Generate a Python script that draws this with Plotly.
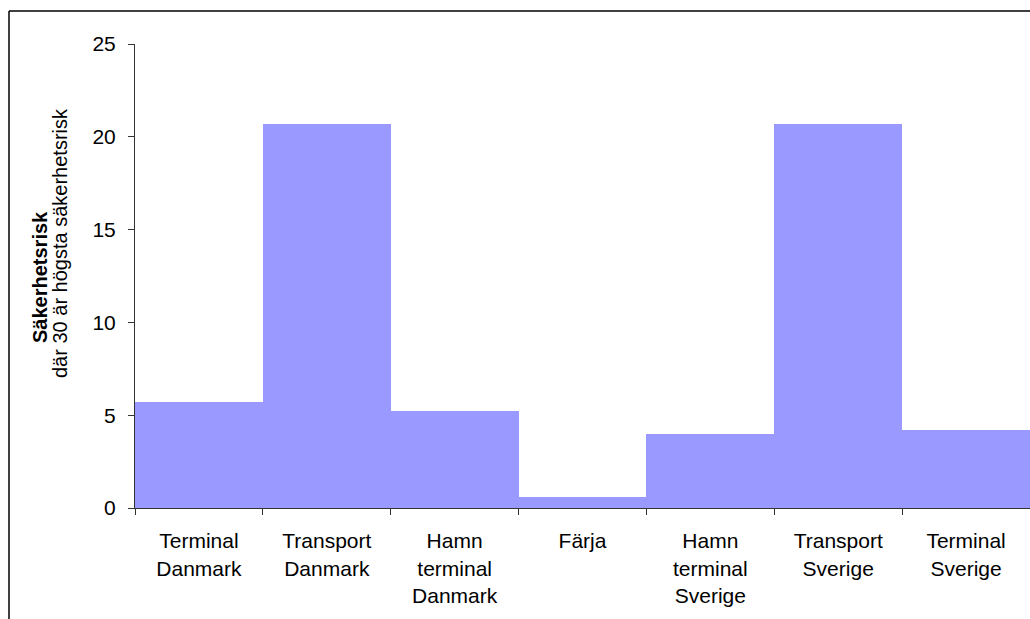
import plotly.graph_objects as go

# Safety risk per stage of the transport chain
categories = [
    "Terminal<br>Danmark",
    "Transport<br>Danmark",
    "Hamn<br>terminal<br>Danmark",
    "Färja",
    "Hamn<br>terminal<br>Sverige",
    "Transport<br>Sverige",
    "Terminal<br>Sverige",
]
risk_values = [5.7, 20.7, 5.2, 0.6, 4.0, 20.7, 4.2]
y_ticks = [0, 5, 10, 15, 20, 25]

W, H = 1030, 619
L, R, T, B = 135, 0, 44, 111
plot_w = W - L - R
plot_h = H - T - B

font_family = "Liberation Sans, Arial, sans-serif"
axis_color = "#333333"

fig = go.Figure(
    go.Bar(
        x=categories,
        y=risk_values,
        marker=dict(color="#9999FF", line=dict(width=0)),
        hoverinfo="skip",
    )
)


def px_x(px):
    return (px - L) / plot_w


def px_y(py):
    return (H - B - py) / plot_h


fig.update_layout(
    width=W,
    height=H,
    margin=dict(l=L, r=R, t=T, b=B),
    paper_bgcolor="white",
    plot_bgcolor="white",
    bargap=0,
    showlegend=False,
    font=dict(family=font_family, size=21, color="black"),
    xaxis=dict(
        type="category",
        range=[-0.5, 6.5],
        tickson="boundaries",
        ticks="outside",
        ticklen=6,
        tickwidth=1,
        tickcolor=axis_color,
        showline=True,
        linecolor=axis_color,
        linewidth=1,
        showgrid=False,
        zeroline=False,
        tickfont=dict(size=21),
        ticklabelstandoff=14,
    ),
    yaxis=dict(
        range=[0, 25],
        tickvals=y_ticks,
        ticktext=[str(v) for v in y_ticks],
        ticks="outside",
        ticklen=6,
        tickwidth=1,
        tickcolor=axis_color,
        showline=True,
        linecolor=axis_color,
        linewidth=1,
        showgrid=False,
        zeroline=False,
        tickfont=dict(size=21),
        ticklabelstandoff=8,
    ),
    annotations=[
        dict(
            text="<b>Säkerhetsrisk</b>",
            xref="paper", yref="paper",
            x=px_x(40), y=px_y(277),
            xanchor="center", yanchor="middle",
            textangle=-90, showarrow=False,
            font=dict(size=20),
        ),
        dict(
            text="där 30 är högsta säkerhetsrisk",
            xref="paper", yref="paper",
            x=px_x(60), y=px_y(243),
            xanchor="center", yanchor="middle",
            textangle=-90, showarrow=False,
            font=dict(size=20),
        ),
    ],
    shapes=[
        # outer chart frame (left and top edges are inside the view)
        dict(type="line", xref="paper", yref="paper",
             x0=px_x(9), x1=px_x(1040), y0=px_y(11), y1=px_y(11),
             line=dict(color="black", width=1.5)),
        dict(type="line", xref="paper", yref="paper",
             x0=px_x(9), x1=px_x(9), y0=px_y(11), y1=px_y(630),
             line=dict(color="black", width=1.5)),
    ],
)

fig.write_html("out.html")
